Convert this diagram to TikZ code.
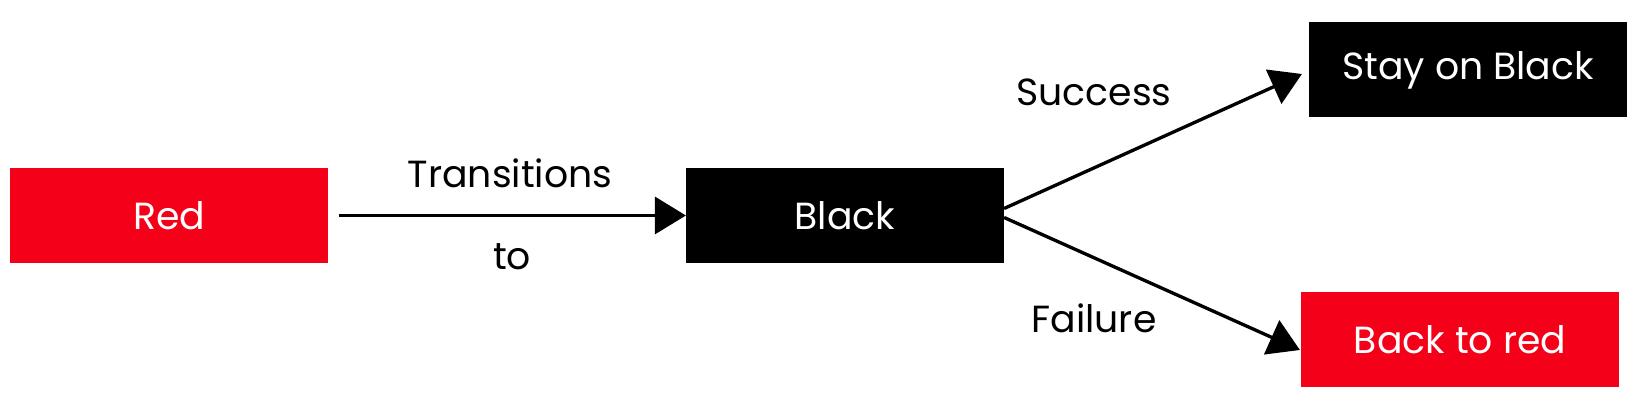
\documentclass[tikz,border=0pt]{standalone}
\usepackage{fontspec}
\setmainfont{Poppins}
\usetikzlibrary{arrows.meta}
\definecolor{signalred}{HTML}{F40018}
\begin{document}
\begin{tikzpicture}[
    state/.style={minimum width=6.35cm, minimum height=1.9cm, inner sep=0pt, text=white, font=\fontsize{21.5}{25}\selectfont},
    redstate/.style={state, fill=signalred},
    blackstate/.style={state, fill=black},
    arr/.style={-{Triangle[length=0.62cm,width=0.74cm]}, line width=1.9pt},
    lbl/.style={font=\fontsize{21.5}{25}\selectfont}
]
    \useasboundingbox (0,0) rectangle (33,8.26);
    % states
    \node[redstate] (red) at (3.38,3.95) {Red};
    \node[blackstate] (black) at (16.9,3.95) {Black};
    \node[blackstate] (stay) at (29.36,6.86) {Stay on Black};
    \node[redstate] (back) at (29.2,1.46) {Back to red};
    % transitions
    \draw[arr] ([xshift=0.22cm]red.east) -- (black.west);
    \draw[arr] ([yshift=0.14cm]black.east) -- ([xshift=-0.14cm,yshift=-0.08cm]stay.west);
    \draw[arr] ([yshift=-0.04cm]black.east) -- ([xshift=-0.02cm,yshift=-0.2cm]back.west);
    % labels
    \node[lbl] (trans) at (10.2,4.8) {Transitions};
    \node[lbl] (to) at (10.24,3.12) {to};
    \node[lbl] (succ) at (21.88,6.42) {Success};
    \node[lbl] (fail) at (21.88,1.9) {Failure};
\end{tikzpicture}
\end{document}
